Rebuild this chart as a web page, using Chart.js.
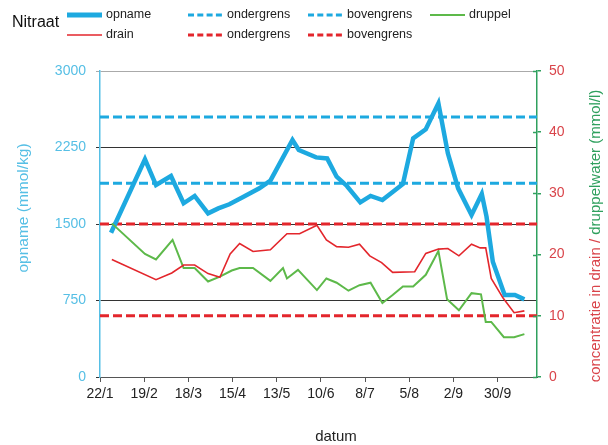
<!DOCTYPE html>
<html>
<head>
<meta charset="utf-8">
<script src="https://cdn.jsdelivr.net/npm/chart.js@4.4.1/dist/chart.umd.min.js"></script>
<style>
html,body{margin:0;padding:0;background:#fff;}
canvas{display:block;}
</style>
</head>
<body>
<canvas id="c" width="608" height="445"></canvas>
<script>
// ---- data (x = days since 22/1) ----
const tickDays   = [0, 28, 56, 84, 112, 140, 168, 196, 224, 252];
const tickLabels = ['22/1', '19/2', '18/3', '15/4', '13/5', '10/6', '8/7', '5/8', '2/9', '30/9'];
const xMaxDay = 277;

const opnameDays   = [7, 28.5, 35.5, 45, 53, 60, 68.5, 75, 82, 91, 101, 108, 122, 126, 137, 144, 150, 156.5, 165, 171.5, 179, 192, 198.5, 206.5, 214.5, 220.5, 227, 235.5, 242, 245, 249, 256.5, 263, 269];
const opnameValues = [1414, 2134, 1882, 1970, 1703, 1775, 1604, 1653, 1693, 1768, 1850, 1925, 2324, 2225, 2153, 2143, 1964, 1873, 1712, 1775, 1735, 1892, 2340, 2428, 2683, 2193, 1850, 1588, 1794, 1572, 1130, 804, 804, 761];

const drainDays   = [7.5, 35.5, 45.5, 53, 60, 68.5, 76, 82.5, 88.5, 97, 108, 118.5, 126.5, 137.5, 143.5, 150, 157.5, 164.5, 171, 178.5, 185.5, 199.5, 206.5, 214.5, 220.5, 227.5, 235.5, 241, 244.5, 248, 255.5, 262.5, 269];
const drainValues = [19.2, 15.9, 17.0, 18.3, 18.3, 16.9, 16.3, 20.1, 21.8, 20.5, 20.8, 23.4, 23.4, 24.8, 22.4, 21.3, 21.2, 21.7, 19.8, 18.7, 17.1, 17.2, 20.2, 20.9, 21.0, 19.8, 21.7, 21.1, 21.1, 16.1, 12.9, 10.5, 10.8];

const druppelDays   = [7.5, 28.5, 35.5, 46, 53, 60, 68.5, 76, 83.5, 88.5, 97, 108, 116, 118.5, 125.5, 137.5, 143.5, 150, 157.5, 164.5, 171.5, 179, 185.5, 192, 198.5, 206.5, 214.5, 220, 227.5, 235.5, 241.5, 244.5, 248, 256, 262.5, 269];
const druppelValues = [25.1, 20.1, 19.2, 22.4, 17.8, 17.8, 15.6, 16.4, 17.4, 17.8, 17.8, 15.7, 17.8, 16.1, 17.5, 14.2, 16.1, 15.4, 14.1, 15.0, 15.4, 12.1, 13.4, 14.8, 14.8, 16.7, 20.6, 12.7, 10.9, 13.7, 13.5, 9.0, 9.0, 6.5, 6.5, 7.0];

const opnameOnder = 1900, opnameBoven = 2550;   // mmol/kg (left axis)
const drainOnder = 10, drainBoven = 25;          // mmol/l (right axis)

const leftTicks  = [0, 750, 1500, 2250, 3000];
const rightTicks = [0, 10, 20, 30, 40, 50];

// ---- colours ----
const BLUE = '#1DA9E0', RED = '#E3262C', GREEN = '#5DB94A';
const AXBLUE = '#56BFE5', AXGREEN = '#2FA05E', LBLRED = '#D9444A';

const pts = (xs, ys) => xs.map((x, i) => ({x: x, y: ys[i]}));
const hline = v => [{x: 0, y: v}, {x: xMaxDay, y: v}];

const datasets = [
  {label: 'opname', data: pts(opnameDays, opnameValues), yAxisID: 'y', borderColor: BLUE, borderWidth: 4.5, leg: {row: 0, x: 67, w: 5}},
  {label: 'ondergrens', data: hline(opnameOnder), yAxisID: 'y', borderColor: BLUE, borderWidth: 3, borderDash: [9, 4], leg: {row: 0, x: 188, w: 3, dash: true}},
  {label: 'bovengrens', data: hline(opnameBoven), yAxisID: 'y', borderColor: BLUE, borderWidth: 3, borderDash: [9, 4], leg: {row: 0, x: 308, w: 3, dash: true}},
  {label: 'druppel', data: pts(druppelDays, druppelValues), yAxisID: 'y2', borderColor: GREEN, borderWidth: 2, leg: {row: 0, x: 430, w: 2}},
  {label: 'drain', data: pts(drainDays, drainValues), yAxisID: 'y2', borderColor: RED, borderWidth: 1.6, leg: {row: 1, x: 67, w: 1.6}},
  {label: 'ondergrens', data: hline(drainOnder), yAxisID: 'y2', borderColor: RED, borderWidth: 3, borderDash: [9, 4], leg: {row: 1, x: 188, w: 3, dash: true}},
  {label: 'bovengrens', data: hline(drainBoven), yAxisID: 'y2', borderColor: RED, borderWidth: 3, borderDash: [9, 4], leg: {row: 1, x: 308, w: 3, dash: true}}
];
// draw order: thresholds below series
const order = [3, 6, 7, 2, 1, 4, 5];
datasets.forEach((d, i) => { d.order = order[i]; d.pointRadius = 0; d.tension = 0; d.fill = false; });

const FONT = '"Liberation Sans", Arial, sans-serif';

const decor = {
  id: 'decor',
  afterDraw(chart) {
    const ctx = chart.ctx;
    ctx.save();
    // title
    ctx.fillStyle = '#111';
    ctx.font = '16px ' + FONT;
    ctx.textBaseline = 'middle';
    ctx.textAlign = 'left';
    ctx.fillText('Nitraat', 12, 23);
    // legend
    const rowsY = [15, 35];
    ctx.font = '12.5px ' + FONT;
    chart.data.datasets.forEach(d => {
      const L = d.leg, y = rowsY[L.row];
      ctx.beginPath();
      ctx.strokeStyle = d.borderColor;
      ctx.lineWidth = L.w;
      ctx.setLineDash(L.dash ? [6, 3.3] : []);
      ctx.moveTo(L.x, y); ctx.lineTo(L.x + 35, y);
      ctx.stroke();
      ctx.setLineDash([]);
      ctx.fillStyle = '#222';
      ctx.fillText(d.label, L.x + 39, y);
    });
    // left axis title
    ctx.font = '15.5px ' + FONT;
    ctx.textAlign = 'center';
    ctx.fillStyle = AXBLUE;
    ctx.translate(24, 208);
    ctx.rotate(-Math.PI / 2);
    ctx.fillText('opname (mmol/kg)', 0, 0);
    ctx.setTransform(1, 0, 0, 1, 0, 0);
    // right axis title (two colours)
    ctx.font = '15px ' + FONT;
    const p1 = 'concentratie in drain / ', p2 = 'druppelwater (mmol/l)';
    const w1 = ctx.measureText(p1).width, w2 = ctx.measureText(p2).width;
    ctx.translate(596, 236);
    ctx.rotate(-Math.PI / 2);
    ctx.textAlign = 'left';
    const sx = -(w1 + w2) / 2;
    ctx.fillStyle = LBLRED; ctx.fillText(p1, sx, 0);
    ctx.fillStyle = AXGREEN; ctx.fillText(p2, sx + w1, 0);
    ctx.setTransform(1, 0, 0, 1, 0, 0);
    // x title
    ctx.font = '15px ' + FONT;
    ctx.textAlign = 'center';
    ctx.fillStyle = '#222';
    ctx.fillText('datum', 336, 437);
    // inner half of right axis tick marks
    const y2 = chart.scales.y2, ca = chart.chartArea;
    ctx.strokeStyle = AXGREEN; ctx.lineWidth = 1.5;
    y2.ticks.forEach(t => {
      const py = Math.round(y2.getPixelForValue(t.value)) + 0.5;
      ctx.beginPath(); ctx.moveTo(ca.right - 4, py); ctx.lineTo(ca.right, py); ctx.stroke();
    });
    ctx.restore();
  }
};

new Chart(document.getElementById('c'), {
  type: 'line',
  data: {datasets: datasets},
  options: {
    responsive: false,
    devicePixelRatio: 1,
    animation: false,
    layout: {padding: {top: 71, left: 0, right: 0, bottom: 0}},
    plugins: {legend: {display: false}, tooltip: {enabled: false}},
    scales: {
      x: {
        type: 'linear', min: 0, max: xMaxDay,
        afterBuildTicks: s => { s.ticks = tickDays.map(v => ({value: v})); },
        afterFit: s => { s.height = 68; },
        grid: {drawOnChartArea: false, drawTicks: true, tickLength: 5, color: '#555', lineWidth: 1},
        border: {display: true, color: '#555', width: 1},
        ticks: {
          padding: 4, color: '#222', font: {family: FONT, size: 14}, maxRotation: 0, autoSkip: false,
          callback: v => { const i = tickDays.indexOf(v); return i >= 0 ? tickLabels[i] : ''; }
        }
      },
      y: {
        position: 'left', min: 0, max: 3000,
        afterBuildTicks: s => { s.ticks = leftTicks.map(v => ({value: v})); },
        afterFit: s => { s.width = 100; },
        grid: {
          drawTicks: true, tickLength: 4, lineWidth: 1,
          color: c => c.tick && c.tick.value === 3000 ? '#aaaaaa' : '#333333'
        },
        border: {display: true, color: AXBLUE, width: 1.5},
        ticks: {padding: 10, color: AXBLUE, font: {family: FONT, size: 14}, callback: v => String(v)}
      },
      y2: {
        position: 'right', min: 0, max: 50,
        afterBuildTicks: s => { s.ticks = rightTicks.map(v => ({value: v})); },
        afterFit: s => { s.width = 71; },
        grid: {drawOnChartArea: false, drawTicks: true, tickLength: 4, color: AXGREEN, lineWidth: 1.5},
        border: {display: true, color: AXGREEN, width: 1.5},
        ticks: {padding: 8, color: LBLRED, font: {family: FONT, size: 14}, callback: v => String(v)}
      }
    }
  },
  plugins: [decor]
});
</script>
</body>
</html>
